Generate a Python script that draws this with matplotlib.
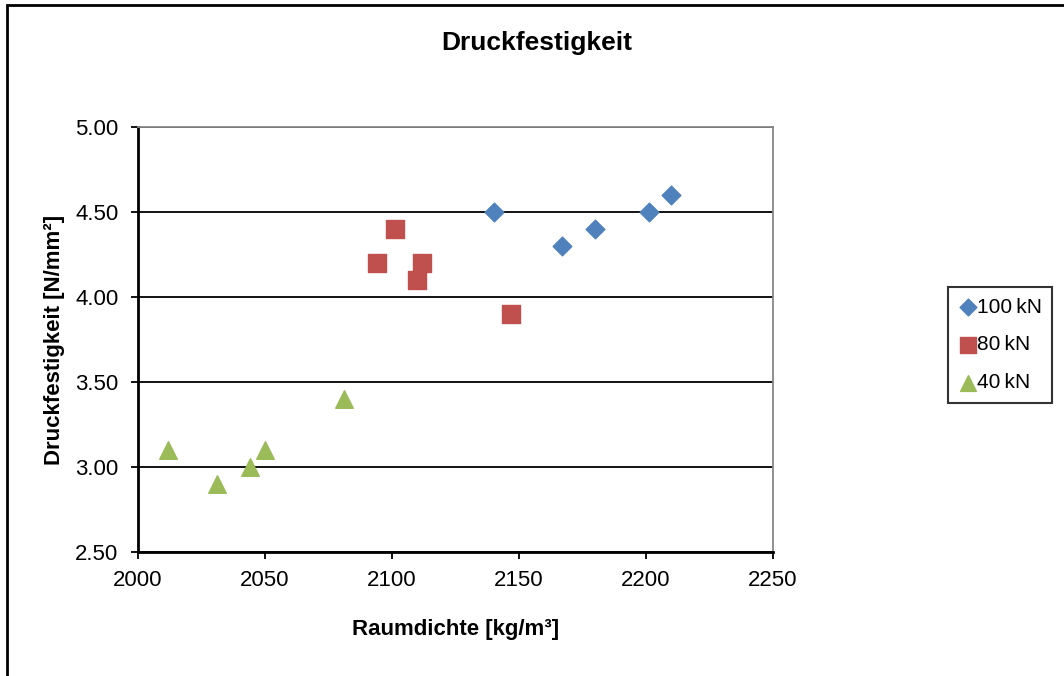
import matplotlib
matplotlib.use("Agg")
import matplotlib.pyplot as plt
from matplotlib.patches import Rectangle

plt.rcParams["font.family"] = ["Liberation Sans", "DejaVu Sans"]

# Raumdichte [kg/m3] and Druckfestigkeit [N/mm2] per load level
x_100 = [2140, 2167, 2180, 2201, 2210]
y_100 = [4.5, 4.3, 4.4, 4.5, 4.6]
x_80 = [2094, 2101, 2110, 2112, 2147]
y_80 = [4.2, 4.4, 4.1, 4.2, 3.9]
x_40 = [2012, 2031, 2044, 2050, 2081]
y_40 = [3.1, 2.9, 3.0, 3.1, 3.4]

x_ticks = [2000, 2050, 2100, 2150, 2200, 2250]
y_ticks = [2.5, 3.0, 3.5, 4.0, 4.5, 5.0]

fig = plt.figure(figsize=(10.64, 6.76), dpi=100)
fig.patches.append(Rectangle((7 / 1064, -0.1), 1.2, 1.1 - 6 / 676 + 0.001,
                             transform=fig.transFigure, fill=False,
                             edgecolor="black", linewidth=2, zorder=0))

ax = fig.add_axes([138 / 1064, 1 - 552 / 676, (773 - 138) / 1064, (552 - 127) / 676])

ax.scatter(x_100, y_100, marker="D", s=90, color="#4F81BD", label="100\u2009kN", zorder=3)
ax.scatter(x_80, y_80, marker="s", s=160, color="#C0504D", label="80\u2009kN", zorder=3)
ax.scatter(x_40, y_40, marker="^", s=160, color="#9BBB59", label="40\u2009kN", zorder=3)

ax.set_xlim(2000, 2250)
ax.set_ylim(2.5, 5.0)
ax.set_xticks(x_ticks)
ax.set_yticks(y_ticks)
ax.set_yticklabels([f"{v:.2f}" for v in y_ticks])
ax.grid(axis="y", color="black", linewidth=1.3)
ax.set_axisbelow(True)
ax.tick_params(direction="out", length=5, width=1.3, labelsize=16, color="black")
ax.tick_params(axis="x", pad=8)
ax.tick_params(axis="y", pad=9)

for side in ["top", "right"]:
    ax.spines[side].set_color("#888888")
    ax.spines[side].set_linewidth(1.3)
for side in ["left", "bottom"]:
    ax.spines[side].set_linewidth(2)

ax.set_xlabel("Raumdichte [kg/m³]", fontsize=16, fontweight="bold")
ax.set_ylabel("Druckfestigkeit [N/mm²]", fontsize=16, fontweight="bold")
ax.xaxis.set_label_coords(0.5, -(630 - 552) / 425, transform=ax.transAxes)
ax.xaxis.label.set_va("center")
ax.yaxis.set_label_coords(-(138 - 55) / 635, 0.5, transform=ax.transAxes)
ax.yaxis.label.set_va("center")
fig.text(537 / 1064, 1 - 43 / 676, "Druckfestigkeit", fontsize=19, fontweight="bold",
         ha="center", va="center")

leg = fig.legend(loc="center", bbox_to_anchor=(1000 / 1064, 1 - 345 / 676), fontsize=15,
                 frameon=True, fancybox=False, edgecolor="black", handletextpad=0.0,
                 handlelength=0.9, labelspacing=0.9, borderpad=0.5, markerscale=0.9)
leg.get_frame().set_linewidth(1.5)

fig.savefig("out.png", dpi=100)
